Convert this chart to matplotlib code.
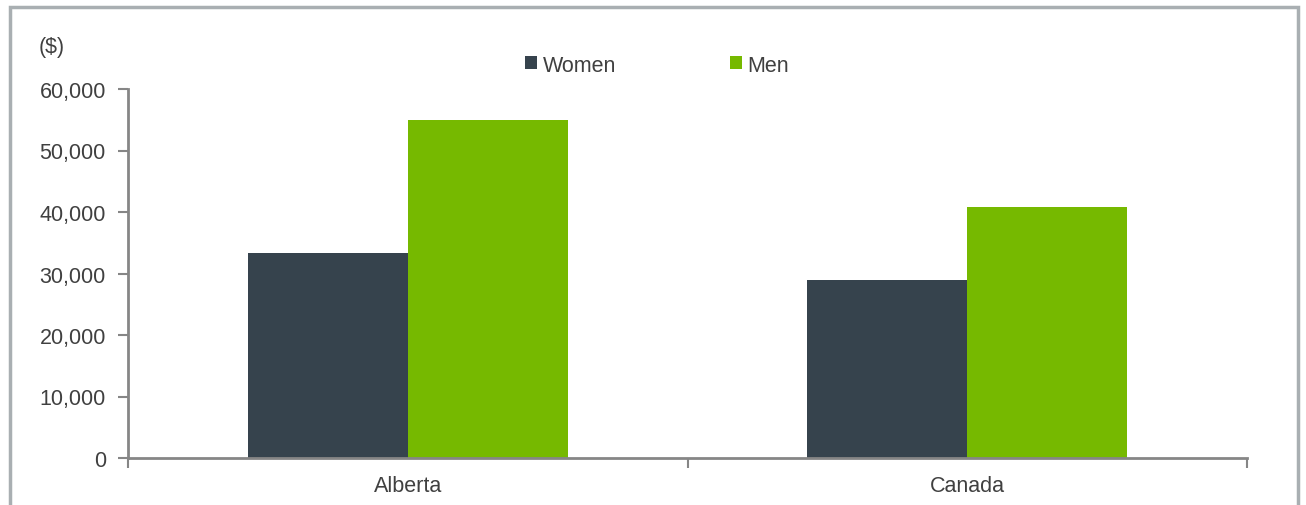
import matplotlib
matplotlib.use("Agg")
import matplotlib.pyplot as plt
from matplotlib.patches import Rectangle
import numpy as np

plt.rcParams['font.family'] = ['Liberation Sans', 'DejaVu Sans']

# data
regions = ['Alberta', 'Canada']
women = [33300, 28900]
men = [55000, 40800]
yticks = [0, 10000, 20000, 30000, 40000, 50000, 60000]

c_women = '#36434d'
c_men = '#76b900'
c_text = '#404040'
c_axis = '#868686'
fs = 15.5

fig = plt.figure(figsize=(13.06, 5.06), dpi=100)
ax = fig.add_axes([128/1306, 1-459/506, (1247-128)/1306, (459-90)/506])

x = np.arange(len(regions))
w = 0.286
ax.bar(x - w/2, women, w, color=c_women, label='Women', zorder=2)
ax.bar(x + w/2, men, w, color=c_men, label='Men', zorder=2)

ax.set_xlim(-0.5, len(regions) - 0.5)
ax.set_ylim(0, 60000)
ax.set_yticks(yticks)
ax.set_yticklabels(['{:,}'.format(v) for v in yticks])

# category labels between boundary ticks
ax.set_xticks(np.arange(-0.5, len(regions), 1.0))
ax.set_xticklabels([])
ax.set_xticks(x, minor=True)
ax.set_xticklabels(regions, minor=True)
ax.tick_params(axis='x', which='minor', length=0, pad=12)
ax.tick_params(axis='x', which='major', length=7, width=1.5, color=c_axis)
ax.tick_params(axis='y', length=7, width=1.5, color=c_axis, pad=9)
ax.tick_params(labelsize=fs, labelcolor=c_text)
ax.tick_params(axis='x', which='minor', labelsize=fs, labelcolor=c_text)

for s in ['top', 'right']:
    ax.spines[s].set_visible(False)
for s in ['left', 'bottom']:
    ax.spines[s].set_color(c_axis)
    ax.spines[s].set_linewidth(2)

fig.text(39/1306, 1-47/506, '($)', fontsize=fs, color=c_text, va='center')

leg = fig.legend(loc='center', bbox_to_anchor=(657/1306, 1-66/506), ncol=2,
                 frameon=False, fontsize=fs, handlelength=0.55, handleheight=0.55,
                 handletextpad=0.25, columnspacing=5.3, labelcolor=c_text)

# outer border of the chart frame
fig.patches.append(Rectangle((10/1306, -0.1), (1298-10)/1306, (1.1-8/506),
                             transform=fig.transFigure, fill=False,
                             edgecolor='#a9afb2', linewidth=2.5))

fig.savefig('out.png', dpi=100, facecolor='white')
